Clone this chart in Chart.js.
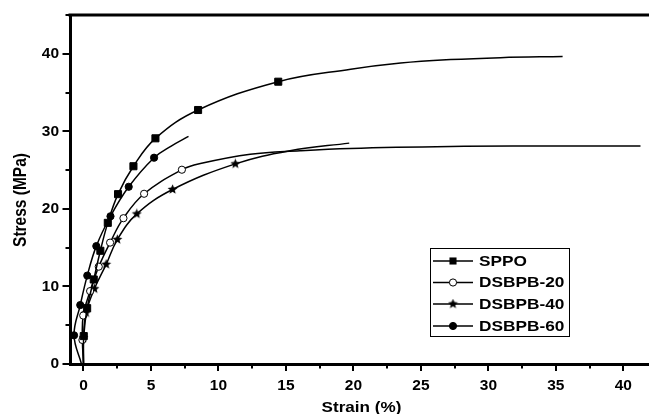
<!DOCTYPE html>
<html>
<head>
<meta charset="utf-8">
<script src="https://cdn.jsdelivr.net/npm/chart.js@4.4.1/dist/chart.umd.min.js"></script>
<style>
  html, body { margin: 0; padding: 0; background: #fff; }
  #wrap { width: 649px; height: 414px; position: relative; }
</style>
</head>
<body>
<div id="wrap"><canvas id="c" width="649" height="414"></canvas></div>
<script>
// Axis tick labels
const xTicks = [0, 5, 10, 15, 20, 25, 30, 35, 40];
const yTicks = [0, 10, 20, 30, 40];
const seriesNames = ['SPPO', 'DSBPB-20', 'DSBPB-40', 'DSBPB-60'];

// SPPO: marked measurements, then the unmarked end of the curve
const sppoStrain = [0, 0.02, 0.27, 0.76, 1.25, 1.8, 2.56, 3.7, 5.33, 8.49, 14.43];
const sppoStress = [0, 3.6, 7.2, 10.9, 14.6, 18.2, 21.9, 25.5, 29.1, 32.75, 36.4];
const sppoTailStrain = [19.8, 23.5, 27.2, 30.9, 35.5];
const sppoTailStress = [38.0, 38.8, 39.25, 39.5, 39.65];

// DSBPB-20
const b20Strain = [0, -0.08, -0.02, 0.49, 1.13, 1.97, 2.96, 4.49, 7.29];
const b20Stress = [0, 3.1, 6.25, 9.4, 12.55, 15.65, 18.8, 21.95, 25.05];
const b20TailStrain = [8.66, 12.36, 16.05, 19.76, 27.2, 33.3, 41.27];
const b20TailStress = [25.85, 27.05, 27.5, 27.8, 28.05, 28.1, 28.1];

// DSBPB-40
const b40Strain = [0, 0.0, 0.19, 0.81, 1.68, 2.51, 3.95, 6.6, 11.25];
const b40Stress = [0, 3.4, 6.6, 9.7, 12.85, 16.05, 19.35, 22.5, 25.8];
const b40TailStrain = [15.3, 19.69];
const b40TailStress = [27.5, 28.48];

// DSBPB-60
const b60Strain = [-0.15, -0.7, -0.24, 0.28, 0.95, 2.0, 3.35, 5.23];
const b60Stress = [0, 3.7, 7.6, 11.4, 15.2, 19.05, 22.85, 26.6];
const b60TailStrain = [6.5, 7.78];
const b60TailStress = [28.1, 29.35];

// Filled five-point star used as a point style
function makeStar(size) {
  const cv = document.createElement('canvas');
  cv.width = size; cv.height = size;
  const g = cv.getContext('2d');
  const c = size / 2, ro = size / 2 - 0.3, ri = ro * 0.45;
  g.beginPath();
  for (let i = 0; i < 10; i++) {
    const r = i % 2 === 0 ? ro : ri;
    const ang = -Math.PI / 2 + i * Math.PI / 5;
    const px = c + r * Math.cos(ang), py = c + r * Math.sin(ang);
    if (i === 0) g.moveTo(px, py); else g.lineTo(px, py);
  }
  g.closePath();
  g.fillStyle = '#000';
  g.fill();
  return cv;
}
const starImg = makeStar(11);

function toPoints(xs, ys) { return xs.map((v, i) => ({ x: v, y: ys[i] })); }

const markerStyles = [
  { pointStyle: 'rect', radius: 5, fill: '#000' },
  { pointStyle: 'circle', radius: 3.6, fill: '#fff' },
  { pointStyle: starImg, radius: 5, fill: '#000' },
  { pointStyle: 'circle', radius: 3.6, fill: '#000' }
];

function makeSeries(label, xs, ys, tx, ty, style) {
  const marked = xs.length;
  const r = ctx => (ctx.dataIndex >= marked || ctx.raw.y === 0) ? 0 : style.radius;
  return {
    label,
    data: toPoints(xs.concat(tx), ys.concat(ty)),
    showLine: true,
    borderColor: '#000',
    borderWidth: 1.5,
    tension: 0.4,
    pointStyle: style.pointStyle,
    pointBackgroundColor: style.fill,
    pointBorderColor: '#000',
    pointBorderWidth: 1,
    pointRadius: r,
    pointHoverRadius: r
  };
}

const datasets = [
  makeSeries(seriesNames[0], sppoStrain, sppoStress, sppoTailStrain, sppoTailStress, markerStyles[0]),
  makeSeries(seriesNames[1], b20Strain, b20Stress, b20TailStrain, b20TailStress, markerStyles[1]),
  makeSeries(seriesNames[2], b40Strain, b40Stress, b40TailStrain, b40TailStress, markerStyles[2]),
  makeSeries(seriesNames[3], b60Strain, b60Stress, b60TailStrain, b60TailStress, markerStyles[3])
];

const FONT = '"Liberation Sans", Arial, sans-serif';

function drawMarker(ctx, style, x, y) {
  ctx.save();
  ctx.lineWidth = 1;
  ctx.strokeStyle = '#000';
  ctx.fillStyle = style.fill;
  if (style.pointStyle === 'rect') {
    const s = style.radius * Math.SQRT1_2;
    ctx.fillRect(x - s, y - s, 2 * s, 2 * s);
  } else if (style.pointStyle === 'circle') {
    ctx.beginPath();
    ctx.arc(x, y, style.radius, 0, Math.PI * 2);
    ctx.fill();
    ctx.stroke();
  } else {
    const img = style.pointStyle;
    ctx.drawImage(img, x - img.width / 2, y - img.height / 2);
  }
  ctx.restore();
}

// Frame, tick marks, axis titles and the boxed legend
const decorations = {
  id: 'decorations',
  afterDraw(chart) {
    const { ctx, chartArea: a, scales: { x, y } } = chart;
    ctx.save();
    ctx.strokeStyle = '#000';
    ctx.lineCap = 'butt';

    // top frame line
    ctx.lineWidth = 3;
    ctx.beginPath();
    ctx.moveTo(a.left - 1.5, a.top);
    ctx.lineTo(a.right, a.top);
    ctx.stroke();

    // tick marks (major + minor)
    ctx.lineWidth = 2;
    ctx.beginPath();
    for (let v = 0; v <= 40; v += 2.5) {
      const px = Math.round(x.getPixelForValue(v));
      const len = v % 5 === 0 ? 7 : 4.5;
      ctx.moveTo(px, a.bottom);
      ctx.lineTo(px, a.bottom + len);
    }
    for (let v = 0; v <= 45; v += 5) {
      const py = Math.round(y.getPixelForValue(v));
      const len = v % 10 === 0 ? 7.5 : 4.5;
      ctx.moveTo(a.left, py);
      ctx.lineTo(a.left - len, py);
    }
    ctx.stroke();

    ctx.fillStyle = '#000';
    ctx.textAlign = 'center';
    ctx.textBaseline = 'middle';

    // x axis title
    ctx.save();
    ctx.font = 'bold 15px ' + FONT;
    ctx.translate((a.left + a.right) / 2 + 2, 408);
    ctx.scale(1.14, 1);
    ctx.fillText('Strain (%)', 0, 0);
    ctx.restore();

    // y axis title
    ctx.save();
    ctx.font = 'bold 15.5px ' + FONT;
    ctx.translate(21, 200);
    ctx.rotate(-Math.PI / 2);
    ctx.scale(1, 1.22);
    ctx.fillText('Stress (MPa)', 0, 0);
    ctx.restore();

    // legend
    const box = { left: a.left + 360, top: 248, width: 139, height: 88 };
    ctx.lineWidth = 1;
    ctx.strokeRect(box.left + 0.5, box.top + 0.5, box.width, box.height);
    const rowY = [261, 282.5, 304, 326];
    chart.data.datasets.forEach((ds, i) => {
      const yy = rowY[i];
      ctx.lineWidth = 1.5;
      ctx.beginPath();
      ctx.moveTo(box.left + 3, yy);
      ctx.lineTo(box.left + 43, yy);
      ctx.stroke();
      drawMarker(ctx, markerStyles[i], box.left + 23, yy);
      ctx.save();
      ctx.font = 'bold 15px ' + FONT;
      ctx.textAlign = 'left';
      ctx.translate(box.left + 49, yy + 0.5);
      ctx.scale(1.15, 1);
      ctx.fillText(ds.label, 0, 0);
      ctx.restore();
    });
    ctx.restore();
  }
};

new Chart(document.getElementById('c'), {
  type: 'scatter',
  data: { datasets },
  options: {
    responsive: false,
    animation: false,
    devicePixelRatio: 1,
    layout: { padding: { top: 15, right: 0, left: 0, bottom: 0 } },
    plugins: { legend: { display: false }, tooltip: { enabled: false } },
    scales: {
      x: {
        type: 'linear',
        min: -1,
        max: 41.9,
        afterFit: s => { s.height = 50; },
        afterBuildTicks: s => { s.ticks = xTicks.map(v => ({ value: v })); },
        grid: { display: false },
        border: { display: true, color: '#000', width: 3 },
        ticks: {
          color: '#000',
          padding: 4,
          maxRotation: 0,
          autoSkip: false,
          font: { family: FONT, size: 15.5, weight: 'bold' }
        }
      },
      y: {
        type: 'linear',
        min: 0,
        max: 45,
        afterFit: s => { s.width = 70; },
        afterBuildTicks: s => { s.ticks = yTicks.map(v => ({ value: v })); },
        grid: { display: false },
        border: { display: true, color: '#000', width: 3 },
        ticks: {
          color: '#000',
          padding: 3,
          autoSkip: false,
          font: { family: FONT, size: 15.5, weight: 'bold' }
        }
      }
    }
  },
  plugins: [decorations]
});
</script>
</body>
</html>
